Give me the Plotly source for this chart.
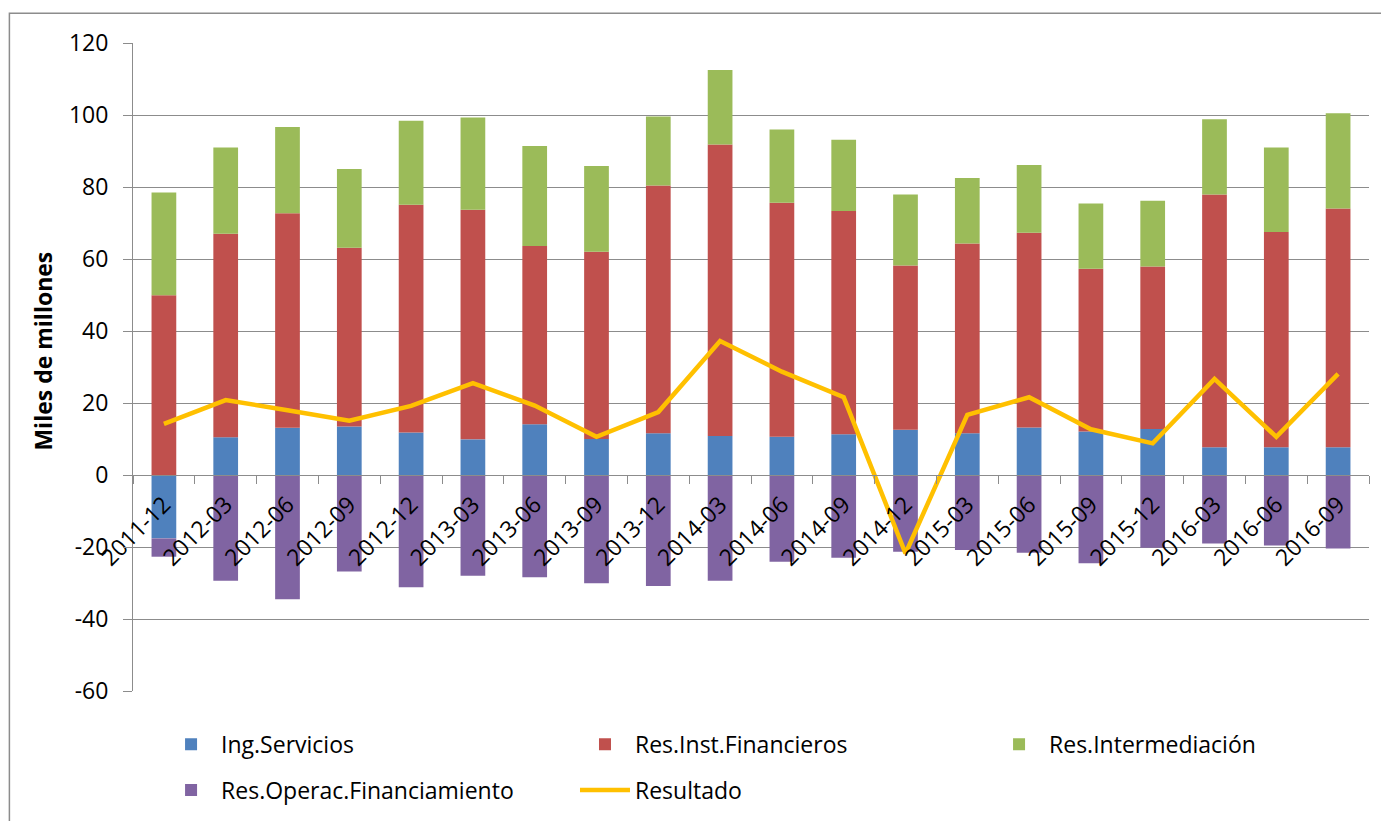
import plotly.graph_objects as go

# 資料 (Miles de millones)
periodos = ["2011-12", "2012-03", "2012-06", "2012-09", "2012-12",
            "2013-03", "2013-06", "2013-09", "2013-12",
            "2014-03", "2014-06", "2014-09", "2014-12",
            "2015-03", "2015-06", "2015-09", "2015-12",
            "2016-03", "2016-06", "2016-09"]

ing_servicios = [-17.6, 10.5, 13.1, 13.5, 11.8, 9.9, 14.1, 10.0, 11.6, 10.8,
                 10.6, 11.3, 12.6, 11.6, 13.2, 12.1, 12.8, 7.7, 7.7, 7.7]
res_inst_fin = [49.9, 56.5, 59.6, 49.6, 63.3, 63.8, 49.5, 52.0, 68.8, 81.0,
                65.0, 62.0, 45.6, 52.7, 54.1, 45.2, 45.1, 70.2, 59.8, 66.3]
res_intermediacion = [28.6, 24.0, 24.0, 21.9, 23.3, 25.6, 27.8, 23.8, 19.2, 20.7,
                      20.4, 19.8, 19.7, 18.2, 18.8, 18.1, 18.3, 20.9, 23.5, 26.5]
res_operac_fin = [-5.1, -29.4, -34.5, -26.8, -31.2, -28.0, -28.4, -30.1, -30.8, -29.4,
                  -24.1, -23.0, -21.3, -20.8, -21.6, -24.5, -20.2, -19.0, -19.6, -20.4]
resultado = [14.2, 20.8, 18.0, 15.1, 19.2, 25.5, 19.3, 10.6, 17.5, 37.2,
             28.7, 21.6, -21.8, 16.7, 21.6, 12.7, 8.8, 26.7, 10.6, 28.1]

# Y 軸刻度 (用一般減號)
y_ticks = [-60, -40, -20, 0, 20, 40, 60, 80, 100, 120]
y_tick_labels = ["-60", "-40", "-20", "0", "20", "40", "60", "80", "100", "120"]

FONT = "Open Sans"
GRID = "#8c8c8c"

fig = go.Figure()

# 堆疊長條 (每一欄圖例各自一個 legend)
fig.add_trace(go.Bar(x=periodos, y=ing_servicios, name="Ing.Servicios",
                     marker_color="#4F81BD", legend="legend", legendgroup="a"))
fig.add_trace(go.Bar(x=periodos, y=res_inst_fin, name="Res.Inst.Financieros",
                     marker_color="#C0504D", legend="legend2", legendgroup="b"))
fig.add_trace(go.Bar(x=periodos, y=res_intermediacion, name="Res.Intermediación",
                     marker_color="#9BBB59", legend="legend3", legendgroup="c"))
fig.add_trace(go.Bar(x=periodos, y=res_operac_fin, name="Res.Operac.Financiamiento",
                     marker_color="#8064A2", legend="legend", legendgroup="d"))

# 結果折線
fig.add_trace(go.Scatter(x=periodos, y=resultado, name="Resultado", mode="lines",
                         line=dict(color="#FFC000", width=4.5),
                         legend="legend2", legendgroup="e"))

fig.update_traces(selector=dict(type="bar"), marker_line_width=0)

legend_common = dict(orientation="v", xanchor="left", yanchor="top", y=-0.049,
                     font=dict(family=FONT, size=23, color="black"),
                     itemwidth=50, bgcolor="rgba(0,0,0,0)",
                     tracegroupgap=13, traceorder="grouped")

# 頁面 body 有 8px 邊距，所以邊界往左上各減 8px
fig.update_layout(
    barmode="relative",
    bargap=0.6,
    width=1389, height=821,
    margin=dict(l=125, r=28, t=35, b=138, autoexpand=False),
    plot_bgcolor="white",
    paper_bgcolor="white",
    font=dict(family=FONT, size=23, color="black"),
    showlegend=True,
    legend=dict(x=0.0227, **legend_common),
    legend2=dict(x=0.3576, **legend_common),
    legend3=dict(x=0.6926, **legend_common),
    xaxis=dict(
        anchor="free", position=1/3,
        type="category",
        tickangle=-45,
        tickson="boundaries",
        ticks="outside", ticklen=8, tickcolor=GRID,
        showline=True, linecolor=GRID, linewidth=1,
        showgrid=False, automargin=False,
        ticklabelstandoff=6,
        tickfont=dict(family=FONT, size=23),
    ),
    yaxis=dict(
        range=[-60, 120],
        tickmode="array", tickvals=y_ticks, ticktext=y_tick_labels,
        showgrid=True, gridcolor=GRID, gridwidth=1,
        zeroline=False,
        ticks="outside", ticklen=9, tickcolor=GRID,
        showline=True, linecolor=GRID, linewidth=1,
        ticklabelstandoff=10, automargin=False,
        tickfont=dict(family=FONT, size=23),
    ),
    annotations=[dict(
        text="<b>Miles de millones</b>", textangle=-90,
        xref="paper", yref="paper", x=-0.073, y=0.525,
        xanchor="center", yanchor="middle",
        showarrow=False, font=dict(family=FONT, size=23, color="black"),
    )],
    shapes=[dict(
        type="rect", xref="paper", yref="paper",
        x0=-0.1, x1=1.03, y0=-0.23, y1=1.046,
        line=dict(color=GRID, width=1.5), layer="below",
    )],
)

fig.write_html("out.html")
